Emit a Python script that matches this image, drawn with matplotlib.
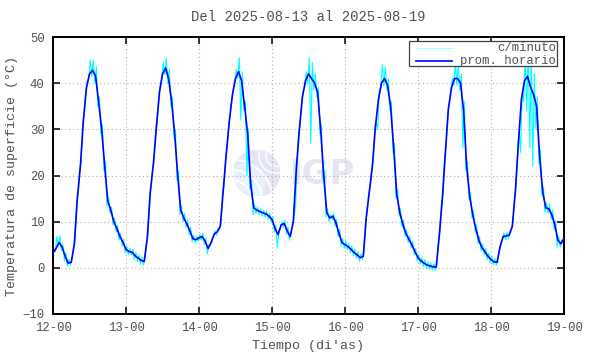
"""
Temperatura de superficie - serie semanal (c/minuto y promedio horario)
"""

import numpy as np

import matplotlib
matplotlib.use("Agg")
import matplotlib.pyplot as plt
import matplotlib.dates as mdates
from matplotlib.patches import Circle, Arc, Rectangle
from matplotlib.lines import Line2D

plt.rcParams['font.family'] = ['Liberation Mono', 'DejaVu Sans Mono']

TITULO = "Del 2025-08-13 al 2025-08-19"
INICIO = "2025-08-12T00:00"
DIAS = 7
GRIS = '#505050'

# promedio horario, una lista por dia (horas 0..23)
prom_12 = [3.2, 4.2, 5.5, 4.5, 2.5, 1.0, 1.2, 5.0, 15.0, 22.0, 32.0, 39.0, 42.0, 42.8, 41.5, 36.0, 30.0, 22.0, 14.5, 12.5, 10.0, 8.5, 6.8, 5.5]
prom_13 = [4.0, 3.5, 3.4, 2.6, 2.1, 1.6, 1.4, 6.5, 16.5, 22.5, 30.5, 38.0, 42.0, 43.3, 41.0, 36.0, 29.0, 20.0, 12.5, 10.8, 9.5, 8.0, 6.3, 6.1]
prom_14 = [6.5, 6.8, 5.8, 4.2, 5.5, 7.3, 7.8, 9.0, 17.0, 25.0, 32.0, 37.5, 41.0, 42.5, 40.5, 35.0, 29.0, 18.0, 13.0, 12.5, 12.2, 11.9, 11.7, 11.2]
prom_15 = [10.5, 8.5, 7.2, 9.3, 9.6, 8.0, 6.8, 10.0, 21.5, 30.0, 37.0, 40.5, 42.0, 41.0, 40.0, 38.0, 30.0, 20.0, 12.0, 10.8, 11.2, 9.8, 7.5, 5.5]
prom_16 = [5.0, 4.6, 4.0, 3.3, 2.8, 2.2, 2.5, 11.0, 16.5, 22.0, 30.6, 36.5, 40.0, 41.0, 39.5, 35.0, 26.0, 16.0, 12.0, 9.5, 7.5, 6.2, 5.0, 3.5]
prom_17 = [2.2, 1.5, 1.0, 0.6, 0.4, 0.2, 0.2, 7.0, 15.0, 25.0, 34.5, 39.0, 41.0, 41.0, 40.0, 34.0, 22.0, 15.5, 11.5, 8.5, 6.0, 4.4, 3.5, 2.5]
prom_18 = [1.8, 1.3, 1.2, 4.6, 6.8, 6.9, 7.1, 9.0, 16.5, 27.0, 36.5, 40.5, 41.5, 39.2, 37.5, 35.0, 24.0, 16.5, 13.0, 12.8, 11.5, 9.3, 6.0, 5.2]
prom_final = 6.4  # 19-00

min_12 = [2.8, 3.5, 4.8, 3.8, 1.5, 0.3, 0.6, 4.5, 14.5, 21.3, 31.2, 38.0, 41.0, 41.5, 40.0, 35.0, 29.0, 21.0, 13.5, 11.8, 9.3, 7.8, 6.0, 4.8]
max_12 = [4.2, 6.8, 6.9, 5.2, 3.2, 1.8, 2.0, 5.8, 15.8, 22.8, 33.0, 40.5, 45.0, 45.0, 43.5, 37.0, 31.0, 23.0, 15.3, 13.2, 10.8, 9.2, 7.5, 6.2]
min_13 = [3.2, 2.8, 2.8, 1.8, 1.4, 0.8, 0.6, 5.8, 15.8, 21.8, 29.8, 37.0, 41.0, 41.8, 40.0, 35.0, 28.0, 19.0, 11.5, 10.0, 8.8, 7.2, 5.6, 5.4]
max_13 = [4.8, 4.2, 4.0, 3.3, 2.8, 2.3, 2.3, 7.2, 17.2, 23.2, 31.5, 39.5, 44.5, 45.5, 43.0, 37.0, 30.0, 21.0, 13.5, 11.8, 10.3, 8.8, 7.0, 6.8]
min_14 = [5.8, 6.0, 5.0, 3.0, 4.8, 6.6, 7.0, 8.3, 16.2, 24.2, 31.0, 36.5, 40.0, 41.0, 32.0, 34.0, 20.0, 17.0, 11.5, 11.8, 11.5, 11.3, 11.0, 10.5]
max_14 = [7.2, 7.5, 6.5, 5.0, 6.2, 8.0, 8.5, 9.8, 17.8, 25.8, 33.0, 38.8, 43.0, 45.5, 42.5, 36.0, 30.0, 19.0, 13.8, 13.2, 12.8, 12.5, 12.3, 11.8]
min_15 = [9.8, 7.7, 4.3, 8.5, 8.8, 7.2, 6.0, 9.2, 13.5, 29.0, 36.0, 39.0, 40.0, 27.0, 38.5, 37.0, 29.0, 19.0, 11.0, 10.0, 10.5, 9.0, 6.8, 4.8]
max_15 = [11.2, 9.3, 8.0, 10.0, 10.3, 8.8, 7.6, 10.8, 22.5, 31.0, 38.5, 42.5, 45.5, 44.5, 42.0, 39.0, 31.0, 21.0, 12.8, 11.5, 11.9, 10.5, 8.3, 6.3]
min_16 = [4.3, 3.9, 3.3, 2.6, 2.1, 1.4, 1.8, 10.0, 15.7, 21.0, 29.5, 30.0, 39.0, 39.5, 38.5, 34.0, 25.0, 15.0, 11.2, 8.8, 6.8, 5.5, 4.3, 2.8]
max_16 = [5.7, 5.3, 4.7, 4.0, 3.5, 3.0, 3.3, 12.0, 17.3, 23.0, 31.5, 38.5, 44.0, 43.5, 41.0, 36.0, 27.0, 17.0, 12.8, 10.3, 8.2, 7.0, 5.7, 4.2]
min_17 = [1.5, 0.8, 0.3, -0.1, -0.3, -0.5, -0.6, 6.2, 14.2, 24.2, 33.5, 37.5, 39.5, 39.5, 38.5, 26.0, 21.0, 14.7, 10.7, 7.7, 5.2, 3.7, 2.8, 1.8]
max_17 = [2.9, 2.2, 1.8, 1.3, 1.1, 0.9, 1.0, 7.8, 15.8, 25.8, 35.5, 41.0, 44.5, 44.5, 42.0, 36.0, 23.0, 16.3, 12.3, 9.3, 6.8, 5.2, 4.2, 3.2]
min_18 = [1.1, 0.6, 0.5, 3.8, 6.0, 6.1, 6.3, 8.2, 15.5, 24.5, 25.0, 36.0, 34.0, 26.0, 22.0, 30.0, 22.5, 15.5, 12.0, 11.8, 10.5, 8.2, 4.5, 4.5]
max_18 = [2.5, 2.0, 2.0, 5.4, 7.6, 7.7, 7.9, 9.8, 17.5, 30.0, 38.0, 46.0, 48.7, 46.5, 42.0, 37.0, 25.5, 17.5, 14.0, 13.8, 12.5, 10.2, 6.8, 6.0]


def main():
    prom = np.array(prom_12 + prom_13 + prom_14 + prom_15 + prom_16 + prom_17 + prom_18 + [prom_final])
    vmin = np.array(min_12 + min_13 + min_14 + min_15 + min_16 + min_17 + min_18)
    vmax = np.array(max_12 + max_13 + max_14 + max_15 + max_16 + max_17 + max_18)

    t0 = np.datetime64(INICIO)
    horas = np.arange(len(prom))
    t_prom = t0 + horas * np.timedelta64(60, 'm')

    # c/minuto: min y max de cada hora alternados
    h = np.arange(len(vmin))
    t_min = t0 + h * np.timedelta64(60, 'm') - np.timedelta64(15, 'm')
    t_max = t0 + h * np.timedelta64(60, 'm') + np.timedelta64(15, 'm')
    t_min[0] = t0
    t_all = np.empty(2 * len(h), dtype='datetime64[m]')
    v_all = np.empty(2 * len(h))
    t_all[0::2] = t_min
    t_all[1::2] = t_max
    v_all[0::2] = vmin
    v_all[1::2] = vmax

    fig = plt.figure(figsize=(5.9, 3.54), dpi=100)
    ax = fig.add_axes([53 / 590, 1 - 314 / 354, 511 / 590, 277 / 354])
    ax.patch.set_alpha(0)

    # logo de fondo
    lg = fig.add_axes([233.7 / 590, 1 - 196.3 / 354, 46 / 590, 46 / 354], zorder=-1)
    lg.set_xlim(-1, 1)
    lg.set_ylim(-1, 1)
    lg.set_aspect('equal')
    lg.axis('off')
    disco = Circle((0, 0), 1, color='#e5e5f5')
    lg.add_patch(disco)
    azul = Circle((-0.45, -0.4), 0.8, color='#e7f2fc')
    lg.add_patch(azul)
    azul.set_clip_path(disco)
    for r in [0.9, 1.35, 1.8]:
        a = Arc((-1.1, -1.2), 2 * r, 2 * r, color='white', lw=1.3)
        lg.add_patch(a)
        a.set_clip_path(disco)
    for r in [0.45, 0.75]:
        a = Arc((0.85, 0.75), 2 * r, 2 * r, color='white', lw=1.0)
        lg.add_patch(a)
        a.set_clip_path(disco)
    fig.text(322.5 / 590, 1 - 175 / 354, "IGP", fontsize=24.5, fontweight='bold',
             family='DejaVu Sans', color='#e4e4f5', ha='center', va='center', zorder=-1)

    ax.plot(t_all, v_all, color='#00ffff', lw=0.8, zorder=2)
    ax.plot(t_prom, prom, color='#0000ff', lw=1.2, zorder=3)

    ax.set_xlim(t0, t0 + np.timedelta64(DIAS, 'D'))
    ax.set_ylim(-10, 50)
    ax.set_yticks(np.arange(-10, 51, 10))
    ax.xaxis.set_major_locator(mdates.DayLocator())
    ax.xaxis.set_major_formatter(mdates.DateFormatter('%d-%H'))

    ax.grid(True, color='#b0b0b0', linestyle=(0, (1, 2.5)), lw=0.8, zorder=1)
    ax.tick_params(direction='in', length=5, width=1.1, top=True, right=True,
                   labelsize=8.8, labelcolor=GRIS, pad=6)
    for s in ax.spines.values():
        s.set_linewidth(1.4)

    # leyenda estilo gnuplot
    ax.add_patch(Rectangle((0.697, 0.895), 0.289, 0.092, transform=ax.transAxes,
                           facecolor='white', edgecolor='#404040', lw=0.9, zorder=4))
    ax.add_line(Line2D([0.711, 0.780], [0.962, 0.962], transform=ax.transAxes,
                       color='#a0ffff', lw=0.8, zorder=5))
    ax.add_line(Line2D([0.711, 0.780], [0.915, 0.915], transform=ax.transAxes,
                       color='#0000ff', lw=1.2, zorder=5))
    ax.text(0.984, 0.962, "c/minuto", transform=ax.transAxes, ha='right', va='center',
            fontsize=8.8, color=GRIS, zorder=5)
    ax.text(0.984, 0.915, "prom. horario", transform=ax.transAxes, ha='right', va='center',
            fontsize=8.8, color=GRIS, zorder=5)

    fig.text(308.5 / 590, 1 - 17 / 354, TITULO, ha='center', va='center',
             fontsize=10, color=GRIS)
    fig.text(308.5 / 590, 1 - 346 / 354, "Tiempo (di'as)", ha='center', va='center',
             fontsize=9.6, color=GRIS)
    fig.text(12 / 590, 1 - 175.5 / 354, "Temperatura de superficie (°C)", ha='center',
             va='center', rotation=90, fontsize=9.6, color=GRIS)

    fig.savefig("out.png", dpi=100)
    plt.close(fig)


if __name__ == "__main__":
    main()
